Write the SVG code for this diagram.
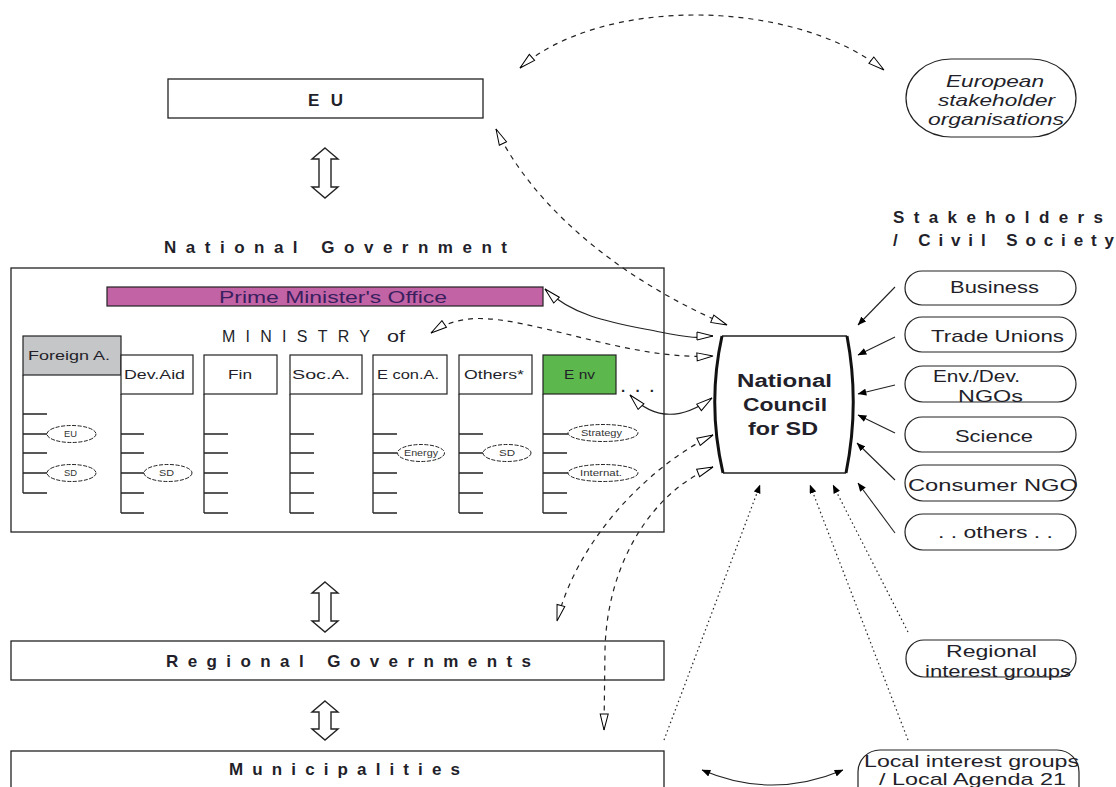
<svg xmlns="http://www.w3.org/2000/svg" width="1116" height="787" viewBox="0 0 1116 787">
<style>
text{font-family:"Liberation Sans",Arial,sans-serif;fill:#231f2a}
.h{font-weight:bold;font-size:17px}
.box{fill:#fff;stroke:#222;stroke-width:1.3}
.frame{fill:none;stroke:#222;stroke-width:1.3}
.col{fill:#fff;stroke:#222;stroke-width:1.2}
.ln{stroke:#222;stroke-width:1.3;fill:none}
.ell{fill:#fff;stroke:#222;stroke-width:1;stroke-dasharray:4 1.5}
.st{font-size:8.5px;fill:#333}
.ct{font-size:13px}
.pill{fill:#fff;stroke:#222;stroke-width:1.2}
.pt{font-size:17px}
.it{font-size:17px;font-style:italic}
.dash{fill:none;stroke:#222;stroke-width:1.2;stroke-dasharray:5 5}
.dot{fill:none;stroke:#222;stroke-width:1.2;stroke-dasharray:1.5 3}
.sol{fill:none;stroke:#222;stroke-width:1.1}
.blk{fill:#fff;stroke:#222;stroke-width:1.4}
</style>
<defs>
<marker id="oa" viewBox="0 0 18 10" refX="17" refY="5" markerWidth="18" markerHeight="10" markerUnits="userSpaceOnUse" orient="auto-start-reverse"><path d="M1,1 L17,5 L1,9 Z" fill="#fff" stroke="#000" stroke-width="1" stroke-dasharray="none"/></marker>
<marker id="fa" viewBox="0 0 10 8" refX="9.5" refY="4" markerWidth="9" markerHeight="7" markerUnits="userSpaceOnUse" orient="auto-start-reverse"><path d="M0,0 L10,4 L0,8 Z" fill="#000"/></marker>
</defs>
<rect width="1116" height="787" fill="#fff"/>

<g id="eu">
<rect class="box" x="168" y="79" width="315" height="39"/>
<text class="h" x="308" y="106" textLength="35" lengthAdjust="spacing">E U</text>
</g>

<g id="european-stakeholders">
<rect class="pill" x="906" y="59" width="170" height="78" rx="45" ry="39"/>
<text class="it" x="946" y="87" textLength="98" lengthAdjust="spacingAndGlyphs">European</text>
<text class="it" x="938" y="106" textLength="117" lengthAdjust="spacingAndGlyphs">stakeholder</text>
<text class="it" x="928" y="125" textLength="136" lengthAdjust="spacingAndGlyphs">organisations</text>
</g>

<g id="arrow-eu-gov"><polygon class="blk" points="325,148 338,159 331,159 331,187 338,187 325,198 312,187 319,187 319,159 312,159"/></g>
<g id="arrow-gov-reg"><polygon class="blk" points="325,582 338,593 331,593 331,621 338,621 325,632 312,621 319,621 319,593 312,593"/></g>
<g id="arrow-reg-mun"><polygon class="blk" points="325,701 338,712 331,712 331,729 338,729 325,740 312,729 319,729 319,712 312,712"/></g>

<g id="national-government">
<text class="h" x="164" y="253" textLength="343" lengthAdjust="spacing">National Government</text>
<rect class="frame" x="11" y="268" width="653" height="264"/>
</g>

<g id="pmo">
<rect x="107" y="287" width="436" height="19" fill="#c263a6" stroke="#222" stroke-width="1.2"/>
<text class="pt" x="219" y="303" textLength="228" lengthAdjust="spacingAndGlyphs" style="fill:#3a1f5e">Prime Minister's Office</text>
</g>

<g id="ministry-label">
<text x="222" y="342" textLength="148" lengthAdjust="spacing" style="font-size:16px">MINISTRY</text>
<text x="387" y="342" textLength="18" lengthAdjust="spacingAndGlyphs" style="font-size:16px">of</text>
</g>

<g id="foreign">
<rect x="23" y="336" width="98" height="39" fill="#c4c6c8" stroke="#222" stroke-width="1.2"/>
<text class="ct" x="28" y="360" textLength="82" lengthAdjust="spacingAndGlyphs">Foreign A.</text>
<path class="ln" d="M23,375 V493 M23,414 H47 M23,434 H47 M23,453 H47 M23,473 H47 M23,493 H47"/>
<ellipse class="ell" cx="71.5" cy="434" rx="24.5" ry="8.5"/>
<text class="st" x="64" y="437" textLength="13" lengthAdjust="spacingAndGlyphs">EU</text>
<ellipse class="ell" cx="71.5" cy="473" rx="24.5" ry="8.5"/>
<text class="st" x="64" y="476" textLength="13" lengthAdjust="spacingAndGlyphs">SD</text>
</g>

<g id="devaid">
<rect class="col" x="121" y="355" width="72" height="39"/>
<text class="ct" x="124" y="379" textLength="61" lengthAdjust="spacingAndGlyphs">Dev.Aid</text>
<path class="ln" d="M121,394 V513 M121,434 H144 M121,453 H144 M121,473 H144 M121,493 H144 M121,513 H144"/>
<ellipse class="ell" cx="168" cy="473" rx="24" ry="8.5"/>
<text class="st" x="159" y="476" textLength="15" lengthAdjust="spacingAndGlyphs">SD</text>
</g>

<g id="fin">
<rect class="col" x="204" y="355" width="73" height="39"/>
<text class="ct" x="228" y="379" textLength="24" lengthAdjust="spacingAndGlyphs">Fin</text>
<path class="ln" d="M204,394 V513 M204,434 H228 M204,453 H228 M204,473 H228 M204,493 H228 M204,513 H228"/>
</g>

<g id="soc">
<rect class="col" x="290" y="355" width="72" height="39"/>
<text class="ct" x="292" y="379" textLength="58" lengthAdjust="spacingAndGlyphs">Soc.A.</text>
<path class="ln" d="M290,394 V513 M290,434 H314 M290,453 H314 M290,473 H314 M290,493 H314 M290,513 H314"/>
</g>

<g id="econ">
<rect class="col" x="373" y="355" width="74" height="39"/>
<text class="ct" x="377" y="379" textLength="62" lengthAdjust="spacingAndGlyphs">E con.A.</text>
<path class="ln" d="M373,394 V513 M373,434 H397 M373,453 H397 M373,473 H397 M373,493 H397 M373,513 H397"/>
<ellipse class="ell" cx="421" cy="453" rx="23.5" ry="8.5"/>
<text class="st" x="404" y="456" textLength="34" lengthAdjust="spacingAndGlyphs">Energy</text>
</g>

<g id="others-ministry">
<rect class="col" x="459" y="355" width="73" height="39"/>
<text class="ct" x="464" y="379" textLength="60" lengthAdjust="spacingAndGlyphs">Others*</text>
<path class="ln" d="M459,394 V513 M459,434 H483 M459,453 H483 M459,473 H483 M459,493 H483 M459,513 H483"/>
<ellipse class="ell" cx="507" cy="453" rx="24" ry="8.5"/>
<text class="st" x="499" y="456" textLength="16" lengthAdjust="spacingAndGlyphs">SD</text>
</g>

<g id="env">
<rect x="543" y="355" width="73" height="39" fill="#5cb84c" stroke="#222" stroke-width="1.2"/>
<text class="ct" x="564" y="379" textLength="31" lengthAdjust="spacingAndGlyphs">E nv</text>
<path class="ln" d="M543,394 V513 M543,434 H568 M543,453 H567 M543,473 H568 M543,493 H567 M543,513 H567"/>
<ellipse class="ell" cx="603" cy="433" rx="35" ry="8.5"/>
<text class="st" x="581" y="436" textLength="41" lengthAdjust="spacingAndGlyphs">Strategy</text>
<ellipse class="ell" cx="603" cy="473" rx="35" ry="8.5"/>
<text class="st" x="580" y="476" textLength="42" lengthAdjust="spacingAndGlyphs">Internat.</text>
<text x="621" y="392" textLength="33" lengthAdjust="spacing" style="font-size:15px;font-weight:bold">. . .</text>
</g>

<g id="regional-governments">
<rect class="box" x="11" y="641" width="653" height="39"/>
<text class="h" x="166" y="667" textLength="365" lengthAdjust="spacing">Regional Governments</text>
</g>

<g id="municipalities">
<rect class="box" x="11" y="751" width="653" height="60"/>
<text class="h" x="229" y="775" textLength="231" lengthAdjust="spacing">Municipalities</text>
</g>

<g id="council">
<path d="M722,336 H847 M723,473 H846" stroke="#222" stroke-width="1.3" fill="none"/>
<path d="M722,336 Q707,404 723,473 M847,336 Q860,404 846,473" stroke="#111" stroke-width="3" fill="none"/>
<text class="h" x="737" y="387" textLength="95" lengthAdjust="spacingAndGlyphs" style="font-size:18px">National</text>
<text class="h" x="743" y="411" textLength="84" lengthAdjust="spacingAndGlyphs" style="font-size:18px">Council</text>
<text class="h" x="748" y="435" textLength="70" lengthAdjust="spacingAndGlyphs" style="font-size:18px">for SD</text>
</g>

<g id="stakeholders-label">
<text class="h" x="893" y="223" textLength="210" lengthAdjust="spacing">Stakeholders</text>
<text class="h" x="893" y="246" textLength="221" lengthAdjust="spacing">/ Civil Society</text>
</g>

<g id="business"><rect class="pill" x="905" y="271" width="171" height="34" rx="17"/><text class="pt" x="950" y="293" textLength="89" lengthAdjust="spacingAndGlyphs">Business</text></g>
<g id="trade-unions"><rect class="pill" x="905" y="317" width="171" height="35" rx="17"/><text class="pt" x="931" y="342" textLength="133" lengthAdjust="spacingAndGlyphs">Trade Unions</text></g>
<g id="env-ngos"><rect class="pill" x="905" y="366" width="171" height="36" rx="18"/><text class="pt" x="933" y="382" textLength="87" lengthAdjust="spacingAndGlyphs">Env./Dev.</text><text class="pt" x="958" y="402" textLength="65" lengthAdjust="spacingAndGlyphs">NGOs</text></g>
<g id="science"><rect class="pill" x="905" y="417" width="171" height="35" rx="17"/><text class="pt" x="955" y="442" textLength="78" lengthAdjust="spacingAndGlyphs">Science</text></g>
<g id="consumer-ngo"><rect class="pill" x="905" y="465" width="171" height="36" rx="18"/><text class="pt" x="908" y="491" textLength="170" lengthAdjust="spacingAndGlyphs">Consumer NGO</text></g>
<g id="others-stakeholders"><rect class="pill" x="905" y="514" width="171" height="36" rx="18"/><text class="pt" x="938" y="538" textLength="115" lengthAdjust="spacingAndGlyphs">. . others . .</text></g>
<g id="regional-interest"><rect class="pill" x="906" y="640" width="170" height="37" rx="18"/><text class="pt" x="946" y="657" textLength="91" lengthAdjust="spacingAndGlyphs">Regional</text><text class="pt" x="925" y="677" textLength="146" lengthAdjust="spacingAndGlyphs">interest groups</text></g>
<g id="local-interest"><rect class="pill" x="858" y="750" width="221" height="60" rx="22"/><text class="pt" x="864" y="767" textLength="215" lengthAdjust="spacingAndGlyphs">Local interest groups</text><text class="pt" x="879" y="785" textLength="187" lengthAdjust="spacingAndGlyphs">/ Local Agenda 21</text></g>

<g id="connectors">
<path class="dash" d="M520,68 C600,-3 790,-3 884,70" marker-start="url(#oa)" marker-end="url(#oa)"/>
<path class="dash" d="M496,129 C530,200 610,275 727,325" marker-start="url(#oa)" marker-end="url(#oa)"/>
<path class="sol" d="M545,289 C575,318 615,323 660,332 S700,336 713,336" marker-start="url(#oa)" marker-end="url(#oa)"/>
<path class="dash" d="M431,333 C450,320 470,316 500,320 C560,328 640,360 713,356" marker-start="url(#oa)" marker-end="url(#oa)"/>
<path class="sol" d="M630,395 Q665,432 712,398" marker-start="url(#oa)" marker-end="url(#oa)"/>
<path class="dash" d="M713,435 C660,460 580,530 557,621" marker-start="url(#oa)" marker-end="url(#oa)"/>
<path class="dash" d="M713,467 C655,490 607,560 605,650 L604,730" marker-start="url(#oa)" marker-end="url(#oa)"/>
<path class="dot" d="M664,740 L760,485" marker-end="url(#fa)"/>
<path class="dot" d="M908,740 L810,485" marker-end="url(#fa)"/>
<path class="dot" d="M908,632 L833,485" marker-end="url(#fa)"/>
<path class="sol" d="M895,287 L858,325" marker-end="url(#fa)"/>
<path class="sol" d="M895,337 L858,355" marker-end="url(#fa)"/>
<path class="sol" d="M895,385 L858,394" marker-end="url(#fa)"/>
<path class="sol" d="M895,433 L858,415" marker-end="url(#fa)"/>
<path class="sol" d="M895,480 L857,443" marker-end="url(#fa)"/>
<path class="sol" d="M895,533 L858,483" marker-end="url(#fa)"/>
<path class="sol" d="M702,770 Q772,800 843,770" marker-start="url(#fa)" marker-end="url(#fa)"/>
</g>
</svg>
